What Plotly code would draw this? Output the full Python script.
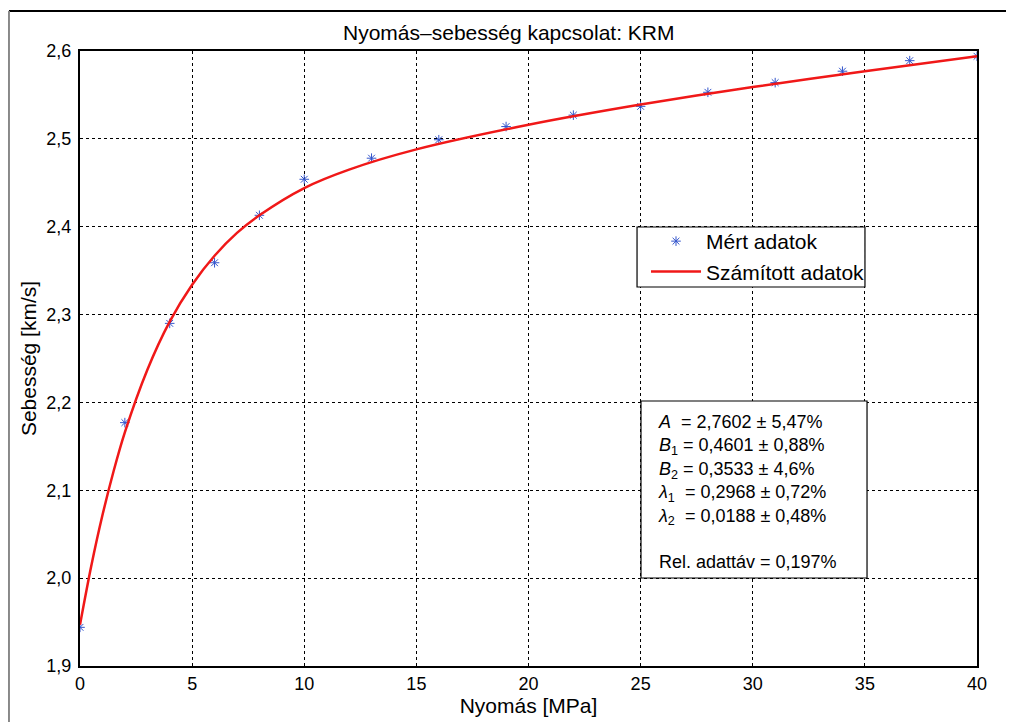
import plotly.graph_objects as go

p_meas = [0, 2, 4, 6, 8, 10, 13, 16, 19, 22, 25, 28, 31, 34, 37, 40]
v_meas = [1.944, 2.177, 2.290, 2.359, 2.413, 2.454, 2.478, 2.499, 2.514,
          2.527, 2.537, 2.553, 2.564, 2.577, 2.589, 2.594]

# Fitted curve
p_fit = [0, 0.5, 1, 1.5, 2, 3, 4, 5, 6, 7, 8, 10, 12, 15, 20, 25, 30, 35, 40]
v_fit = [1.947, 2.0135, 2.0715, 2.122, 2.166, 2.237, 2.292, 2.334, 2.367,
         2.393, 2.413, 2.444, 2.465, 2.488, 2.516, 2.539, 2.559, 2.577, 2.594]

x_ticks = [0, 5, 10, 15, 20, 25, 30, 35, 40]
y_ticks = [1.9, 2.0, 2.1, 2.2, 2.3, 2.4, 2.5, 2.6]

FONT = "Liberation Sans, Arial, sans-serif"
TICK = 18
TXT = 21

fig = go.Figure()
fig.add_trace(go.Scatter(
    x=p_meas, y=v_meas, mode="markers", name="Mért adatok",
    marker=dict(symbol="asterisk-open", size=8, color="#3355cc",
                line=dict(width=1, color="#3355cc")),
))
fig.add_trace(go.Scatter(
    x=p_fit, y=v_fit, mode="lines", name="Számított adatok",
    line=dict(color="#f01818", width=2.5, shape="spline", smoothing=0.8),
))

axis_common = dict(
    showline=True, mirror=True, linecolor="black", linewidth=2,
    showgrid=True, gridcolor="black", gridwidth=1, griddash="dot",
    zeroline=False, ticks="", automargin=False,
    tickfont=dict(size=TICK, color="black", family=FONT),
)

fig.update_xaxes(range=[0, 40], tickvals=x_ticks, ticktext=[str(v) for v in x_ticks],
                 title=dict(text="Nyomás [MPa]", font=dict(size=TXT, color="black", family=FONT),
                            standoff=3),
                 **axis_common)
fig.update_yaxes(range=[1.9, 2.6], tickvals=y_ticks,
                 ticktext=[f"{v:.1f}".replace(".", ",") for v in y_ticks],
                 ticklabelstandoff=3,
                 title=dict(text="Sebesség [km/s]", font=dict(size=TXT, color="black", family=FONT),
                            standoff=4),
                 **axis_common)

# legend box (drawn as a shape)
fig.add_shape(type="rect", xref="paper", yref="paper", x0=0.6210, x1=0.8751,
              y0=0.6163, y1=0.7138, fillcolor="white",
              line=dict(color="black", width=1.2), layer="above")

# parameter box
fig.add_shape(type="rect", xref="paper", yref="paper", x0=0.6254, x1=0.8774,
              y0=0.1431, y1=0.4309, fillcolor="white",
              line=dict(color="black", width=1.2), layer="above")

ann_text = ("<i>A</i>  = 2,7602 ± 5,47%<br>"
            "<i>B</i><sub>1</sub> = 0,4601 ± 0,88%<br>"
            "<i>B</i><sub>2</sub> = 0,3533 ± 4,6%<br>"
            "<i>λ</i><sub>1</sub>  = 0,2968 ± 0,72%<br>"
            "<i>λ</i><sub>2</sub>  = 0,0188 ± 0,48%<br>"
            " <br>"
            "Rel. adattáv = 0,197%")

fig.add_annotation(
    xref="paper", yref="paper", x=0.6444, y=0.4135, xanchor="left", yanchor="top",
    text=ann_text, showarrow=False, align="left",
    font=dict(size=18, color="black", family=FONT),
    borderpad=0, borderwidth=0,
)

# outer figure frame lines
fig.add_shape(type="line", xref="paper", yref="paper", x0=-0.0792, x1=1.05,
              y0=1.065, y1=1.065, line=dict(color="black", width=2))
fig.add_shape(type="line", xref="paper", yref="paper", x0=-0.0792, x1=-0.0792,
              y0=-0.2, y1=1.065, line=dict(color="#888888", width=2))

fig.update_layout(
    width=1006, height=714,
    margin=dict(l=72, r=37, t=43, b=56),
    paper_bgcolor="white", plot_bgcolor="white",
    separators=", ",
    font=dict(family=FONT, size=TXT, color="black"),
    title=dict(text="Nyomás–sebesség kapcsolat: KRM", x=0.478, xref="paper", xanchor="center",
               y=0.965, yref="container", yanchor="middle",
               font=dict(size=TXT, color="black", family=FONT)),
    legend=dict(x=0.631, y=0.7236, xanchor="left", yanchor="top",
                bgcolor="rgba(0,0,0,0)", borderwidth=0,
                font=dict(size=TXT, color="black", family=FONT),
                itemwidth=50, tracegroupgap=0),
    showlegend=True,
)

fig.write_html("out.html")
